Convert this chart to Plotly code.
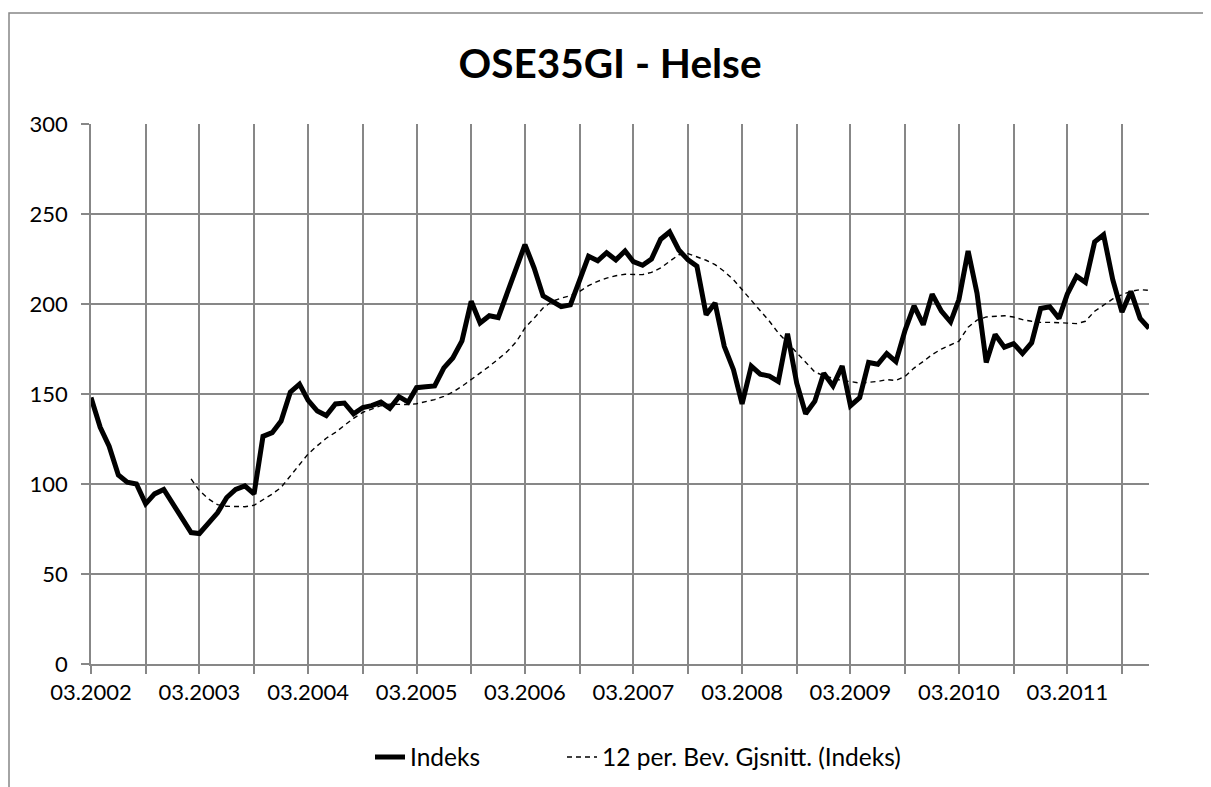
import pandas as pd
import plotly.graph_objects as go

start_month = "2002-03-01"

indeks = [
    148, 131.5, 121, 105, 101, 100, 89, 94.5, 97, 89.5, 81.5, 73,
    72.5, 78.5, 84, 92.5, 97, 99, 94.5, 126.5, 128.5, 135, 151, 155.5,
    146.5, 140.5, 138, 144.5, 145, 139, 142.5, 143.5, 145.5, 142, 148.5, 145.5,
    153.5, 154, 154.5, 164.5, 170, 179.5, 201.5, 189.5, 193.5, 192.5, 206, 220,
    233, 220, 204.5, 201.5, 198.5, 199.5, 212.5, 226.5, 224, 228.5, 224.5, 229.5,
    223.5, 221.5, 225, 236, 240, 230, 224.5, 221, 194, 200.5, 176.5, 163.5,
    144.5, 165.5, 161, 160, 157, 183.5, 156, 139, 146, 161.5, 154.5, 165.5,
    143.5, 148, 167.5, 166.5, 172.5, 168, 185.5, 199, 188.5, 205.5, 196, 190,
    202.5, 229.5, 206, 167.5, 183, 176, 178, 172.5, 178.5, 197.5, 198.5, 192,
    205.5, 215.5, 212, 234.5, 238.5, 213.5, 195.5, 207, 192, 186.5,
]

glidende_snitt = [
    None, None, None, None, None, None, None, None, None, None, None, 102.8,
    96.3, 91.7, 88.5, 87.6, 87.4, 87.4, 88.2, 91.3, 94.4, 98.1, 104.6, 111.1,
    116.7, 121.3, 125.4, 128.7, 132.4, 136.5, 139.8, 141.7, 143.5, 144.4, 144.1, 144.1,
    144.6, 145.6, 146.9, 148.7, 151, 154.3, 158, 161.7, 165.4, 169.4, 173.7, 179.3,
    186.7, 192.2, 197.8, 201.5, 203.3, 204.6, 207, 210.2, 212.6, 214.4, 215.7, 216.5,
    216.3, 216.3, 217.6, 220, 223.7, 227.4, 228, 226.1, 224.3, 221.9, 218.1, 213.5,
    208, 202.4, 196.9, 190.4, 183.9, 178.3, 172.8, 167.2, 162.2, 160.2, 158.7, 157.4,
    156.9, 156.1, 156.5, 157, 158, 157.5, 159.8, 164.4, 168.1, 171.9, 175, 177.4,
    179.3, 187.1, 191, 192.8, 193.1, 193.5, 192.8, 191.3, 190.4, 189.8, 189.8, 189.8,
    189.4, 189.1, 190.4, 196, 199.6, 202.8, 205.2, 207, 208, 207.6,
]

months = pd.date_range(start_month, periods=len(indeks), freq="MS")

y_ticks = [0, 50, 100, 150, 200, 250, 300]

title_text = "OSE35GI - Helse"
name_indeks = "Indeks"
name_snitt = "12 per. Bev. Gjsnitt. (Indeks)"

FONT = "Lato, 'Open Sans', sans-serif"
GRID = "#878787"

# page body has an 8px margin; positions below are target-page coordinates minus it
OFF = 8
W, H = 1211, 787
L = 91 - OFF
T = 124 - OFF
plot_right = 1149 - OFF
plot_bottom = 664 - OFF
R = W - plot_right
B = H - plot_bottom
plot_w = W - L - R
plot_h = H - T - B


def px_x(x):
    return (x - OFF - L) / plot_w


def px_y(y):
    return (plot_bottom - (y - OFF)) / plot_h


fig = go.Figure()
fig.add_trace(go.Scatter(
    x=months, y=indeks, mode="lines", name=name_indeks, legend="legend",
    line=dict(color="#000000", width=5),
))
fig.add_trace(go.Scatter(
    x=months, y=glidende_snitt, mode="lines", name=name_snitt, legend="legend2",
    line=dict(color="#000000", width=1.4, dash="5px,4px"),
))

legend_common = dict(orientation="h", xanchor="left", yanchor="middle",
                     font=dict(family=FONT, size=24.5, color="#000000"),
                     bgcolor="rgba(0,0,0,0)")

fig.update_layout(
    width=W, height=H,
    margin=dict(l=L, r=R, t=T, b=B, pad=0),
    paper_bgcolor="white", plot_bgcolor="white",
    font=dict(family=FONT, size=22, color="#000000"),
    title=dict(text="<b>" + title_text + "</b>", font=dict(family=FONT, size=40.5, color="#000000"),
               xref="container", yref="container", x=(610 - OFF) / W, y=1 - (64 - OFF) / H,
               xanchor="center", yanchor="middle"),
    showlegend=True,
    legend=dict(x=px_x(370), y=px_y(757), **legend_common),
    legend2=dict(x=px_x(562), y=px_y(757), **legend_common),
    xaxis=dict(
        type="date",
        range=[months[0], months[-1]],
        tick0=start_month, dtick="M12", tickformat="%m.%Y",
        showgrid=True, gridcolor=GRID, gridwidth=1.5,
        showline=True, linecolor=GRID, linewidth=1.5,
        ticks="outside", ticklen=8, tickcolor=GRID, tickwidth=1.5,
        ticklabelstandoff=0,
        minor=dict(dtick="M6", tick0=start_month, showgrid=True, gridcolor=GRID, gridwidth=1.5,
                   ticks="outside", ticklen=8, tickcolor=GRID, tickwidth=1.5),
        zeroline=False, fixedrange=True,
    ),
    yaxis=dict(
        range=[0, 300], tickvals=y_ticks,
        showgrid=True, gridcolor=GRID, gridwidth=1.5,
        showline=True, linecolor=GRID, linewidth=1.5,
        ticks="outside", ticklen=8, tickcolor=GRID, tickwidth=1.5,
        ticklabelstandoff=9,
        zeroline=False, fixedrange=True,
    ),
    shapes=[dict(type="rect", xref="paper", yref="paper",
                 x0=px_x(9), x1=px_x(1240),
                 y0=px_y(830), y1=px_y(13),
                 line=dict(color=GRID, width=1.5), fillcolor="rgba(0,0,0,0)", layer="below")],
)

fig.write_html("out.html")
